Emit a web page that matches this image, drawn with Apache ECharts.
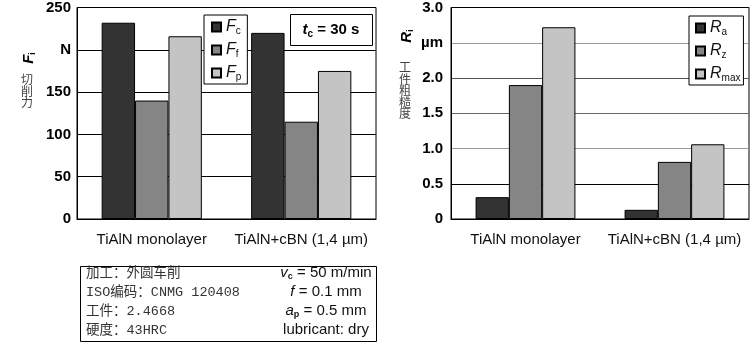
<!DOCTYPE html>
<html><head><meta charset="utf-8">
<script src="https://cdn.jsdelivr.net/npm/echarts@6/dist/echarts.min.js"></script>
<style>html,body{margin:0;padding:0;background:#fff}#c{width:753px;height:344px}</style>
</head><body><div id="c"></div>
<script>
const categories = ['TiAlN monolayer', 'TiAlN+cBN (1,4 µm)'];
const forceNames = ['Fc', 'Ff', 'Fp'];
const Fc = [232, 220];
const Ff = [140, 115];
const Fp = [216, 175];
const roughNames = ['Ra', 'Rz', 'Rmax'];
const Ra = [0.31, 0.13];
const Rz = [1.90, 0.81];
const Rmax = [2.72, 1.06];
const forceTicks = ['0', '50', '100', '150', 'N', '250'];
const roughTicks = ['0', '0.5', '1.0', '1.5', '2.0', 'µm', '3.0'];
const infoLeft = ['加工：外圆车削', 'ISO编码：CNMG 120408', '工件：2.4668', '硬度：43HRC'];

const colors = ['#333333', '#858585', '#c4c4c4'];
const SANS = "'Liberation Sans', Arial, sans-serif";
const chart = echarts.init(document.getElementById('c'), null, {renderer: 'canvas'});

function sub(name) {
  const main = name[0], s = name.slice(1);
  return '{i|' + main + '}{s|' + s + '}';
}
const legendRich = {
  i: {fontFamily: SANS, fontStyle: 'italic', fontSize: 16, color: '#111', lineHeight: 16},
  s: {fontFamily: SANS, fontSize: 10, color: '#111', lineHeight: 10, padding: [8, 0, 0, 0]}
};

function bar(name, data, xi, yi, ci) {
  return {
    type: 'bar', name: name, data: data, xAxisIndex: xi, yAxisIndex: yi,
    barGap: '0%', barCategoryGap: '33%',
    itemStyle: {color: colors[ci], borderColor: '#000', borderWidth: 1},
    emphasis: {disabled: true}
  };
}

const catAxis = (gi) => ({
  type: 'category', gridIndex: gi, data: categories,
  axisTick: {show: false},
  axisLine: {lineStyle: {color: '#000', width: 1}},
  axisLabel: {interval: 0, hideOverlap: false, fontFamily: SANS, fontSize: 15, color: '#111', margin: 13}
});

const option = {
  animation: false,
  backgroundColor: '#fff',
  grid: [
    {left: 77, top: 7, width: 299, height: 212, show: true, borderColor: '#000', borderWidth: 1, backgroundColor: 'transparent'},
    {left: 451, top: 7, width: 298, height: 212, show: true, borderColor: '#000', borderWidth: 1, backgroundColor: 'transparent'}
  ],
  xAxis: [catAxis(0), catAxis(1)],
  yAxis: [
    {type: 'value', gridIndex: 0, min: 0, max: 250, interval: 50,
     axisLine: {show: true, lineStyle: {color: '#000'}}, axisTick: {show: false},
     splitLine: {lineStyle: {color: '#000', width: 1}},
     axisLabel: {fontFamily: SANS, fontSize: 15, fontWeight: 'bold', color: '#000', margin: 6,
       formatter: v => forceTicks[Math.round(v / 50)]}},
    {type: 'value', gridIndex: 1, min: 0, max: 3, interval: 0.5,
     axisLine: {show: true, lineStyle: {color: '#000'}}, axisTick: {show: false},
     splitLine: {lineStyle: {color: ['#000', '#000', '#999', '#666', '#555', '#999', '#000'], width: 1}},
     axisLabel: {fontFamily: SANS, fontSize: 15, fontWeight: 'bold', color: '#000', margin: 8,
       formatter: v => roughTicks[Math.round(v / 0.5)]}}
  ],
  legend: [
    {data: forceNames, left: 204, top: 15, orient: 'vertical', itemWidth: 9, itemHeight: 9, itemGap: 5,
     padding: [3, 6, 2, 7], borderColor: '#000', borderWidth: 1, backgroundColor: '#fff',
     icon: 'rect', selectedMode: false, formatter: sub, textStyle: {rich: legendRich}},
    {data: roughNames, left: 689, top: 16, orient: 'vertical', itemWidth: 9, itemHeight: 9, itemGap: 5,
     padding: [3, 3, 2, 6], borderColor: '#000', borderWidth: 1, backgroundColor: '#fff',
     icon: 'rect', selectedMode: false, formatter: sub, textStyle: {rich: legendRich}}
  ],
  series: [
    bar('Fc', Fc, 0, 0, 0), bar('Ff', Ff, 0, 0, 1), bar('Fp', Fp, 0, 0, 2),
    bar('Ra', Ra, 1, 1, 0), bar('Rz', Rz, 1, 1, 1), bar('Rmax', Rmax, 1, 1, 2)
  ],
  graphic: [
    {type: 'rect', shape: {x: 290.5, y: 14.5, width: 82, height: 31}, style: {fill: '#fff', stroke: '#000', lineWidth: 1}, z: 10},
    {type: 'text', x: 331, y: 30, z: 11, style: {
      text: '{t|t}{s|c}{r| = 30 s}', align: 'center', verticalAlign: 'middle',
      rich: {t: {fontFamily: SANS, fontStyle: 'italic', fontWeight: 'bold', fontSize: 15, lineHeight: 16},
             s: {fontFamily: SANS, fontWeight: 'bold', fontSize: 10, lineHeight: 10, padding: [8, 0, 0, 0]},
             r: {fontFamily: SANS, fontWeight: 'bold', fontSize: 15, lineHeight: 16}}}},
    {type: 'text', x: 29, y: 58, rotation: Math.PI / 2, style: {
      text: '{t|F}{s|i}', align: 'center', verticalAlign: 'middle',
      rich: {t: {fontFamily: SANS, fontStyle: 'italic', fontWeight: 'bold', fontSize: 15, lineHeight: 16},
             s: {fontFamily: SANS, fontWeight: 'bold', fontSize: 9, lineHeight: 9, padding: [7, 0, 0, 0]}}}},
    {type: 'text', x: 27, y: 74, style: {text: '切\n削\n力', align: 'center', verticalAlign: 'top',
      fontFamily: "'Noto Sans CJK SC'", fontSize: 12, lineHeight: 11.5, fill: '#444'}},
    {type: 'text', x: 407, y: 36, rotation: Math.PI / 2, style: {
      text: '{t|R}{s|i}', align: 'center', verticalAlign: 'middle',
      rich: {t: {fontFamily: SANS, fontStyle: 'italic', fontWeight: 'bold', fontSize: 15, lineHeight: 16},
             s: {fontFamily: SANS, fontWeight: 'bold', fontSize: 9, lineHeight: 9, padding: [7, 0, 0, 0]}}}},
    {type: 'text', x: 405, y: 62, style: {text: '工\n件\n粗\n糙\n度', align: 'center', verticalAlign: 'top',
      fontFamily: "'Noto Sans CJK SC'", fontSize: 12, lineHeight: 11.5, fill: '#444'}},
    {type: 'rect', shape: {x: 80.5, y: 266.5, width: 296, height: 75}, style: {fill: '#fff', stroke: '#000', lineWidth: 1}},
    ...infoLeft.map((t, i) => ({type: 'text', x: 86, y: 273 + i * 19, style: {
      text: t, align: 'left', verticalAlign: 'middle',
      fontFamily: "'Liberation Mono', 'Noto Sans CJK SC'", fontSize: 13.5, fill: '#333'}})),
    ...[
      '{i|v}{s|c}{r| = 50 m/min}',
      '{i|f}{r| = 0.1 mm}',
      '{i|a}{s|p}{r| = 0.5 mm}',
      '{r|lubricant: dry}'
    ].map((t, i) => ({type: 'text', x: 326, y: 273 + i * 19, style: {
      text: t, align: 'center', verticalAlign: 'middle',
      rich: {i: {fontFamily: SANS, fontStyle: 'italic', fontSize: 15, lineHeight: 16, fill: '#111'},
             s: {fontFamily: SANS, fontWeight: 'bold', fontSize: 9, lineHeight: 9, padding: [7, 0, 0, 0], fill: '#111'},
             r: {fontFamily: SANS, fontSize: 15, lineHeight: 16, fill: '#111'}}}}))
  ]
};
chart.setOption(option);
</script></body></html>
